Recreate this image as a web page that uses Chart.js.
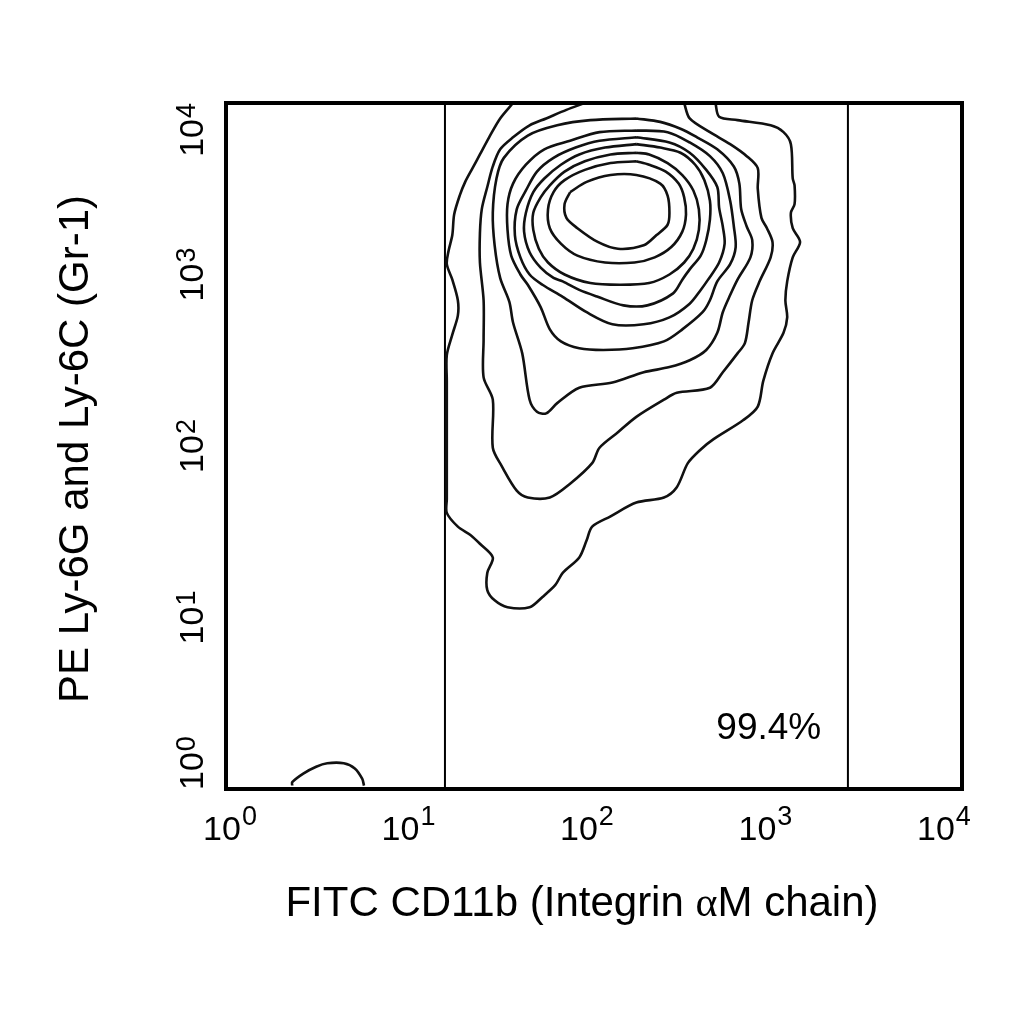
<!DOCTYPE html>
<html>
<head>
<meta charset="utf-8">
<title>FITC CD11b vs PE Ly-6G/Ly-6C contour plot</title>
<script src="https://cdn.jsdelivr.net/npm/chart.js@4.4.1/dist/chart.umd.min.js"></script>
<style>
  html, body { margin: 0; padding: 0; background: #fff; }
  #wrap { width: 1024px; height: 1024px; }
</style>
</head>
<body>
<div id="wrap"><canvas id="plot" width="1024" height="1024"></canvas></div>
<script>
// both axes are in decades (log10 of fluorescence), 10^0 .. 10^4
const xDecades = [0, 1, 2, 3, 4];
const yDecades = [0, 1, 2, 3, 4];
const xTitleParts = ['FITC CD11b (Integrin ', '\u03b1', 'M chain)'];
const yTitle = 'PE Ly-6G and Ly-6C (Gr-1)';

// gate (vertical markers) and its percentage
const gateBounds = [1.19, 3.38];
const gateLabel = '99.4%';
const gateLabelAt = [2.95, 0.29];

// contour levels, outermost first, [log10 x, log10 y]
// the two outer ones run off the top of the plot
const level1 = [[1.56,4.00],[1.49,3.91],[1.43,3.80],[1.38,3.70],[1.34,3.62],[1.30,3.54],[1.27,3.46],
  [1.24,3.35],[1.23,3.23],[1.21,3.14],[1.20,3.06],[1.23,2.97],[1.26,2.85],[1.26,2.76],[1.23,2.65],
  [1.20,2.53],[1.20,2.38],[1.20,2.15],[1.20,1.92],[1.20,1.69],[1.20,1.61],[1.26,1.53],[1.33,1.48],
  [1.38,1.43],[1.45,1.35],[1.42,1.26],[1.42,1.16],[1.46,1.10],[1.53,1.06],[1.65,1.06],[1.72,1.12],
  [1.79,1.19],[1.83,1.26],[1.92,1.35],[1.96,1.45],[1.99,1.53],[2.09,1.59],[2.23,1.67],[2.38,1.70],
  [2.45,1.76],[2.51,1.90],[2.58,1.98],[2.65,2.04],[2.81,2.15],[2.89,2.23],[2.92,2.38],[2.97,2.54],
  [3.03,2.66],[3.05,2.75],[3.04,2.85],[3.05,2.96],[3.08,3.10],[3.12,3.19],[3.08,3.27],[3.07,3.36],
  [3.09,3.41],[3.09,3.52],[3.08,3.56],[3.07,3.76],[3.03,3.83],[2.96,3.87],[2.78,3.90],[2.68,3.92],
  [2.66,4.00]];
const level2 = [[1.95,4.00],[1.85,3.96],[1.74,3.91],[1.65,3.87],[1.56,3.80],[1.49,3.73],[1.45,3.63],
  [1.42,3.51],[1.39,3.38],[1.38,3.24],[1.38,3.07],[1.40,2.85],[1.40,2.62],[1.40,2.40],[1.45,2.27],
  [1.45,1.99],[1.50,1.88],[1.58,1.74],[1.64,1.70],[1.76,1.70],[1.87,1.78],[1.99,1.90],[2.03,1.99],
  [2.13,2.08],[2.23,2.17],[2.38,2.27],[2.45,2.31],[2.63,2.34],[2.70,2.43],[2.78,2.54],[2.82,2.60],
  [2.84,2.72],[2.86,2.85],[2.90,2.96],[2.96,3.10],[2.97,3.19],[2.94,3.27],[2.91,3.33],[2.89,3.50],
  [2.89,3.62],[2.83,3.69],[2.74,3.76],[2.63,3.83],[2.52,3.91],[2.49,4.00]];
const level3 = [[2.23,3.91],[1.98,3.90],[1.80,3.87],[1.64,3.81],[1.51,3.68],[1.47,3.56],[1.45,3.36],
  [1.46,3.17],[1.49,2.98],[1.54,2.84],[1.56,2.72],[1.61,2.54],[1.65,2.27],[1.69,2.20],[1.74,2.19],
  [1.80,2.25],[1.92,2.34],[2.10,2.37],[2.27,2.43],[2.41,2.46],[2.52,2.50],[2.61,2.56],[2.67,2.66],
  [2.70,2.78],[2.74,2.88],[2.78,2.97],[2.85,3.10],[2.86,3.20],[2.83,3.28],[2.80,3.38],[2.79,3.53],
  [2.76,3.63],[2.67,3.73],[2.56,3.80],[2.47,3.85],[2.36,3.89]];
const level4 = [[2.23,3.84],[2.03,3.83],[1.87,3.78],[1.73,3.73],[1.63,3.64],[1.56,3.53],[1.53,3.41],
  [1.53,3.26],[1.55,3.11],[1.60,3.00],[1.64,2.94],[1.71,2.81],[1.76,2.68],[1.82,2.61],[1.92,2.57],
  [2.05,2.56],[2.21,2.57],[2.38,2.61],[2.48,2.68],[2.59,2.78],[2.63,2.85],[2.67,2.96],[2.74,3.06],
  [2.77,3.16],[2.76,3.28],[2.74,3.43],[2.70,3.59],[2.63,3.69],[2.52,3.77],[2.40,3.83]];
const level5 = [[2.23,3.80],[2.03,3.78],[1.90,3.74],[1.78,3.68],[1.69,3.60],[1.63,3.49],[1.58,3.38],
  [1.57,3.23],[1.60,3.10],[1.65,3.00],[1.72,2.94],[1.83,2.87],[1.96,2.78],[2.10,2.71],[2.27,2.71],
  [2.41,2.75],[2.52,2.83],[2.58,2.91],[2.62,2.97],[2.68,3.07],[2.71,3.18],[2.70,3.28],[2.68,3.39],
  [2.67,3.51],[2.61,3.61],[2.52,3.71],[2.41,3.77]];
const level6 = [[2.23,3.76],[2.06,3.74],[1.92,3.70],[1.82,3.64],[1.73,3.56],[1.67,3.48],[1.63,3.36],
  [1.62,3.25],[1.65,3.13],[1.71,3.04],[1.78,2.98],[1.83,2.96],[1.92,2.91],[2.02,2.87],[2.16,2.82],
  [2.29,2.82],[2.43,2.89],[2.48,2.97],[2.52,3.03],[2.58,3.11],[2.61,3.20],[2.63,3.32],[2.63,3.43],
  [2.60,3.55],[2.55,3.64],[2.47,3.71],[2.36,3.74]];
const level7 = [[2.23,3.71],[2.09,3.70],[1.95,3.66],[1.84,3.60],[1.76,3.52],[1.71,3.45],[1.67,3.36],
  [1.67,3.26],[1.70,3.15],[1.75,3.07],[1.84,3.00],[1.98,2.95],[2.14,2.94],[2.30,2.95],[2.41,3.00],
  [2.49,3.07],[2.54,3.15],[2.57,3.26],[2.57,3.38],[2.54,3.49],[2.48,3.58],[2.40,3.65],[2.30,3.70]];
const level8 = [[2.23,3.66],[2.09,3.65],[1.95,3.61],[1.84,3.55],[1.78,3.48],[1.75,3.38],[1.76,3.27],
  [1.82,3.18],[1.91,3.11],[2.06,3.07],[2.22,3.07],[2.33,3.10],[2.42,3.16],[2.48,3.25],[2.50,3.35],
  [2.49,3.45],[2.46,3.53],[2.39,3.60],[2.30,3.64]];
const level9 = [[1.87,3.48],[1.96,3.54],[2.09,3.58],[2.23,3.58],[2.36,3.53],[2.40,3.46],[2.41,3.36],
  [2.40,3.29],[2.34,3.23],[2.27,3.17],[2.13,3.15],[2.02,3.19],[1.91,3.27],[1.85,3.33],[1.84,3.41]];
// small debris population near the origin, cut by the bottom axis
const debris = [[0.36,0.02],[0.36,0.04],[0.42,0.09],[0.49,0.13],[0.55,0.15],[0.64,0.15],[0.70,0.12],
  [0.74,0.06],[0.75,0.02]];

const openLevels = [level1, level2, debris];
const closedLevels = [level3, level4, level5, level6, level7, level8, level9];

function toPoints(list, closed) {
  const pts = list.map(p => ({ x: p[0], y: p[1] }));
  if (closed) pts.push({ x: list[0][0], y: list[0][1] });
  return pts;
}

function contourSet(points) {
  return {
    data: points,
    showLine: true,
    borderColor: '#111',
    borderWidth: 2.6,
    pointRadius: 0,
    fill: false,
    tension: 0.3
  };
}

const datasets = [];
openLevels.forEach(l => datasets.push(contourSet(toPoints(l, false))));
closedLevels.forEach(l => datasets.push(contourSet(toPoints(l, true))));
gateBounds.forEach(g => {
  datasets.push({
    data: [{ x: g, y: 0 }, { x: g, y: 4 }],
    showLine: true,
    borderColor: '#000',
    borderWidth: 2,
    pointRadius: 0,
    tension: 0
  });
});

const big = '34px "Liberation Sans", Arial, sans-serif';
const small = '27px "Liberation Sans", Arial, sans-serif';
const titleFont = '42px "Liberation Sans", Arial, sans-serif';
const greek = '42px "Liberation Serif", "Times New Roman", serif';
const pctFont = '37px "Liberation Sans", Arial, sans-serif';

const decor = {
  id: 'decor',
  afterDraw(chart) {
    const { ctx, chartArea: a } = chart;
    const xs = chart.scales.x, ys = chart.scales.y;
    ctx.save();
    ctx.strokeStyle = '#000';
    ctx.lineWidth = 4;
    ctx.strokeRect(a.left, a.top, a.right - a.left, a.bottom - a.top);

    ctx.fillStyle = '#000';
    ctx.textAlign = 'left';
    ctx.textBaseline = 'alphabetic';

    // x tick labels: 10 with a raised exponent, pulled slightly toward the left edge
    xDecades.forEach(d => {
      ctx.font = big;
      const wb = ctx.measureText('10').width;
      ctx.font = small;
      const ws = ctx.measureText(String(d)).width;
      const w = wb + 1 + ws;
      const px = xs.getPixelForValue(d);
      const centre = a.left + 4 + (px - a.left) * 0.97;
      const left = centre - w / 2;
      ctx.font = big;
      ctx.fillText('10', left, a.bottom + 51);
      ctx.font = small;
      ctx.fillText(String(d), left + wb + 1, a.bottom + 36);
    });

    // y tick labels, rotated, kept inside the plot height
    yDecades.forEach(d => {
      ctx.font = big;
      const wb = ctx.measureText('10').width;
      ctx.font = small;
      const ws = ctx.measureText(String(d)).width;
      const w = wb + 1 + ws;
      let start = ys.getPixelForValue(d) + w / 2;
      start = Math.min(start, a.bottom + 1);
      start = Math.max(start, a.top + w);
      ctx.save();
      ctx.translate(a.left - 23, start);
      ctx.rotate(-Math.PI / 2);
      ctx.font = big;
      ctx.fillText('10', 0, 0);
      ctx.font = small;
      ctx.fillText(String(d), wb + 1, -8);
      ctx.restore();
    });

    // x title with a serif alpha
    ctx.font = titleFont;
    const w0 = ctx.measureText(xTitleParts[0]).width;
    const w2 = ctx.measureText(xTitleParts[2]).width;
    ctx.font = greek;
    const w1 = ctx.measureText(xTitleParts[1]).width;
    const tx = (a.left + a.right) / 2 - 12 - (w0 + w1 + w2) / 2;
    const ty = a.bottom + 127;
    ctx.font = titleFont;
    ctx.fillText(xTitleParts[0], tx, ty);
    ctx.font = greek;
    ctx.fillText(xTitleParts[1], tx + w0, ty);
    ctx.font = titleFont;
    ctx.fillText(xTitleParts[2], tx + w0 + w1, ty);

    // y title
    ctx.save();
    ctx.translate(88, (a.top + a.bottom) / 2 + 3);
    ctx.rotate(-Math.PI / 2);
    ctx.textAlign = 'center';
    ctx.font = titleFont;
    ctx.fillText(yTitle, 0, 0);
    ctx.restore();

    // gate percentage
    ctx.textAlign = 'center';
    ctx.font = pctFont;
    ctx.fillText(gateLabel, xs.getPixelForValue(gateLabelAt[0]), ys.getPixelForValue(gateLabelAt[1]));
    ctx.restore();
  }
};

new Chart(document.getElementById('plot').getContext('2d'), {
  type: 'scatter',
  data: { datasets },
  options: {
    responsive: false,
    animation: false,
    devicePixelRatio: 1,
    layout: { padding: { left: 226, top: 103, right: 62, bottom: 235 } },
    plugins: { legend: { display: false }, tooltip: { enabled: false } },
    scales: {
      x: { type: 'linear', min: 0, max: 4, display: false },
      y: { type: 'linear', min: 0, max: 4, display: false }
    }
  },
  plugins: [decor]
});
</script>
</body>
</html>
